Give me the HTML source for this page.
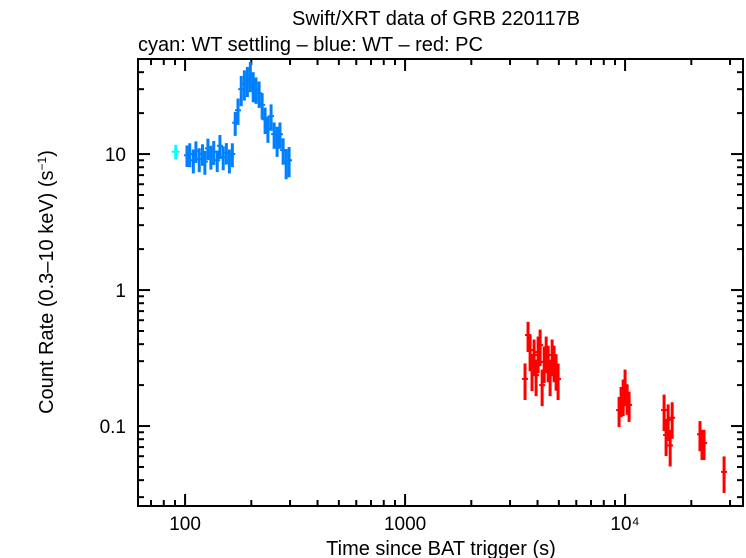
<!DOCTYPE html>
<html><head><meta charset="utf-8"><style>
body{margin:0;background:#fff;}
svg{display:block;font-family:"Liberation Sans",sans-serif;}
</style></head><body>
<svg id="chart" width="746" height="558">
<text x="436" y="25" text-anchor="middle" font-size="20">Swift/XRT data of GRB 220117B</text>
<text x="138" y="51" font-size="20">cyan: WT settling – blue: WT – red: PC</text>
<text x="441" y="555" text-anchor="middle" font-size="20">Time since BAT trigger (s)</text>
<text transform="translate(53,282) rotate(-90)" text-anchor="middle" font-size="20">Count Rate (0.3–10 keV) (s<tspan baseline-shift="super" font-size="12">−1</tspan>)</text>
<g id="axes"></g>
<g id="marks"></g>
<rect x="138" y="59" width="605" height="447" fill="none" stroke="#000" stroke-width="2"/>
</svg>
<script>
const cyanT=[90.7];
const cyanRate=[10.4];
const cyanErr=[1.3];
const blueT=[102,105,109,112,116,120,123,127,131,135,140,144,149,154,159,164,169,174,180,186,192,198,204,210,217,224,231,238,246,254,262,270,279,288,297];
const blueRate=[9.8,10,9,10.5,9.2,10,8.8,11,9.6,10.4,9,11.5,9.5,10.2,9,10,17,21,30,33,35,38,32,30,28,23,18,15.5,19,14,12.7,14,10.7,8.7,9];
const blueErrFrac=[0.18,0.2,0.2,0.18,0.2,0.18,0.2,0.18,0.2,0.2,0.18,0.2,0.2,0.18,0.2,0.2,0.2,0.22,0.25,0.25,0.25,0.25,0.25,0.22,0.22,0.22,0.22,0.22,0.22,0.22,0.25,0.22,0.22,0.25,0.25];
const redT=[3510,3622,3700,3776,3857,3940,4024,4110,4198,4288,4380,4470,4563,4660,4756,4857,4960,9390,9590,9800,10000,10220,10430,15040,15360,15690,16030,16370,21900,22370,22850,28180];
const redRate=[0.222,0.467,0.362,0.258,0.333,0.237,0.35,0.394,0.2,0.296,0.35,0.3,0.237,0.333,0.3,0.26,0.222,0.131,0.155,0.169,0.2,0.161,0.143,0.131,0.086,0.111,0.072,0.115,0.087,0.075,0.075,0.046];
const redErrFrac=[0.3,0.25,0.3,0.3,0.3,0.3,0.3,0.3,0.3,0.3,0.3,0.3,0.3,0.3,0.3,0.3,0.3,0.25,0.25,0.3,0.3,0.25,0.25,0.3,0.3,0.3,0.3,0.3,0.25,0.25,0.25,0.3];
const xTickVals=[100,1000,10000];
const xTickLabels=["100","1000","10⁴"];
const yTickVals=[10,1,0.1];
const yTickLabels=["10","1","0.1"];

const NS="http://www.w3.org/2000/svg";
const X0=138,X1=743,Y0=59,Y1=506;
const LX0=1.786,LX1=4.536,LY0=-1.588,LY1=1.699;
function xs(t){return X0+(Math.log10(t)-LX0)/(LX1-LX0)*(X1-X0);}
function ys(v){return Y1-(Math.log10(v)-LY0)/(LY1-LY0)*(Y1-Y0);}
function line(g,x1,y1,x2,y2,c,w){const l=document.createElementNS(NS,'line');l.setAttribute('x1',x1);l.setAttribute('y1',y1);l.setAttribute('x2',x2);l.setAttribute('y2',y2);l.setAttribute('stroke',c);l.setAttribute('stroke-width',w);g.appendChild(l);return l;}
const axes=document.getElementById('axes');
for(let d=1;d<=4;d++){for(let m=1;m<10;m++){const v=m*Math.pow(10,d);const x=xs(v);if(x<X0||x>X1)continue;const L=m===1?12:6;
const a=line(axes,x,Y1,x,Y1-L,'#000',2);


const b=line(axes,x,Y0,x,Y0+L,'#000',2);

}}
for(let d=-2;d<=1;d++){for(let m=1;m<10;m++){const v=m*Math.pow(10,d);const y=ys(v);if(y<Y0||y>Y1)continue;const L=m===1?12:6;
const a=line(axes,X0,y,X0+L,y,'#000',2);


const b=line(axes,X1,y,X1-L,y,'#000',2);

}}
xTickVals.forEach((v,i)=>{const t=document.createElementNS(NS,'text');t.setAttribute('x',xs(v));t.setAttribute('y',530);t.setAttribute('text-anchor','middle');t.setAttribute('font-size','19');t.textContent=xTickLabels[i];


axes.appendChild(t);});
yTickVals.forEach((v,i)=>{const t=document.createElementNS(NS,'text');t.setAttribute('x',126);t.setAttribute('y',ys(v)+7);t.setAttribute('text-anchor','end');t.setAttribute('font-size','19');t.textContent=yTickLabels[i];


axes.appendChild(t);});
const marks=document.getElementById('marks');
function series(T,R,E,frac,color,name,w,hw){T.forEach((t,i)=>{const g=document.createElementNS(NS,'g');


const r=R[i];const e=frac?r*E[i]:E[i];const x=xs(t),y=ys(r);
line(g,x,ys(r+e),x,ys(Math.max(r-e,r*0.3)),color,w);
line(g,x-hw,y,x+hw,y,color,2);
marks.appendChild(g);});}
series(blueT,blueRate,blueErrFrac,true,'#0080ff','wt-point',3,3);
series(cyanT,cyanRate,cyanErr,false,'#00ffff','wt-settling-point',3,4);
series(redT,redRate,redErrFrac,true,'#ff0000','pc-point',3,3);
</script>
</body></html>
